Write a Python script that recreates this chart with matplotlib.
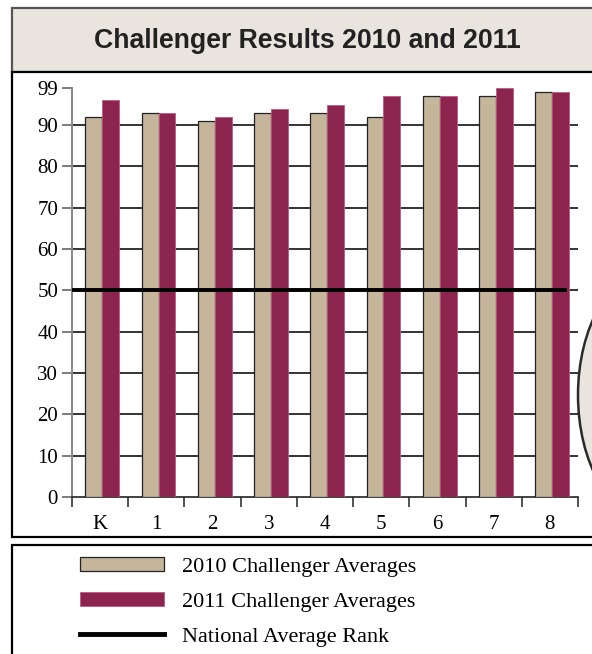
import numpy as np
import matplotlib
matplotlib.use("Agg")
import matplotlib.pyplot as plt
from matplotlib.patches import Rectangle, Ellipse
from matplotlib.lines import Line2D

grades = ["K", "1", "2", "3", "4", "5", "6", "7", "8"]
avg_2010 = [92, 93, 91, 93, 93, 92, 97, 97, 98]
avg_2011 = [96, 93, 92, 94, 95, 97, 97, 99, 98]
national_avg = 50
y_ticks = [0, 10, 20, 30, 40, 50, 60, 70, 80, 90, 99]

TAN = "#C4B59B"
MAROON = "#8B254E"
BOX = "#E9E5DE"

W, H = 592, 654
fig = plt.figure(figsize=(W / 100, H / 100), dpi=100)


def fx(px):
    return px / W


def fy(py):
    return 1 - py / H


def frame(x0, y0, x1, y1, **kw):
    r = Rectangle((fx(x0), fy(y1)), fx(x1) - fx(x0), fy(y0) - fy(y1),
                  transform=fig.transFigure, zorder=-5, **kw)
    fig.patches.append(r)


# title box, chart panel, legend panel
frame(12, 8, 600, 72, facecolor=BOX, edgecolor="#555555", lw=1.6)
frame(12, 72, 600, 537, facecolor="white", edgecolor="black", lw=1.6)
frame(12, 545, 600, 662, facecolor="white", edgecolor="black", lw=1.6)

# part of a shape from the page next to the chart
fig.patches.append(Ellipse((fx(652), fy(395)), fx(148), 250 / H,
                           transform=fig.transFigure, facecolor=BOX,
                           edgecolor="#2a2a2a", lw=1.8, zorder=-4))

fig.text(fx(307), fy(41), "Challenger Results 2010 and 2011",
         ha="center", va="center", fontsize=19.2, fontweight="bold",
         family="Liberation Sans", color="#222222")

ax = fig.add_axes([fx(72), fy(497), fx(578) - fx(72), fy(88) - fy(497)])
ax.set_facecolor("none")
ax.set_zorder(2)

x = np.arange(len(grades))
w = 0.3
ax.bar(x - w / 2 + 0.04, avg_2010, w, color=TAN, edgecolor="#222222", lw=0.9, zorder=3)
ax.bar(x + w / 2 + 0.04, avg_2011, w, color=MAROON, edgecolor="#C25A85", lw=0.6, zorder=3)
ax.hlines(national_avg, -0.5, 8.31, color="black", lw=2.8, zorder=4)

ax.set_xlim(-0.5, 8.5)
ax.set_ylim(0, 99)
ax.set_yticks(y_ticks)
ax.set_xticks(x)
ax.set_xticklabels(grades)
ax.set_xticks(np.arange(-0.5, 9, 1), minor=True)

serif = "Liberation Serif"
for lab in ax.get_xticklabels() + ax.get_yticklabels():
    lab.set_family(serif)
    lab.set_fontsize(15)

ax.tick_params(axis="x", which="major", length=0, pad=13)
ax.tick_params(axis="x", which="minor", length=7, width=1.2, color="#333333", direction="out")
ax.tick_params(axis="y", length=7, width=1.2, color="#666666", direction="out", pad=3)

ax.grid(axis="y", color="#111111", lw=1.2, zorder=1)
ax.get_ygridlines()[0].set_visible(False)
ax.get_ygridlines()[-1].set_visible(False)

ax.spines["top"].set_visible(False)
ax.spines["right"].set_visible(False)
ax.spines["left"].set_color("#888888")
ax.spines["left"].set_linewidth(1.4)
ax.spines["bottom"].set_color("#222222")
ax.spines["bottom"].set_linewidth(1.2)

# legend
handles = [
    Rectangle((0, 0), 1, 1, facecolor=TAN, edgecolor="#222222", lw=0.9),
    Rectangle((0, 0), 1, 1, facecolor=MAROON, edgecolor="#C25A85", lw=0.6),
    Line2D([0], [0], color="black", lw=3.5),
]
labels = ["2010 Challenger Averages", "2011 Challenger Averages", "National Average Rank"]
leg = fig.legend(handles, labels, loc="upper left",
                 bbox_to_anchor=(fx(80), fy(557)), frameon=False,
                 borderpad=0, borderaxespad=0,
                 prop={"family": serif, "size": 16},
                 handlelength=3.8, handleheight=0.6, handletextpad=0.8,
                 labelspacing=0.68)

fig.savefig("out.png", dpi=100)
